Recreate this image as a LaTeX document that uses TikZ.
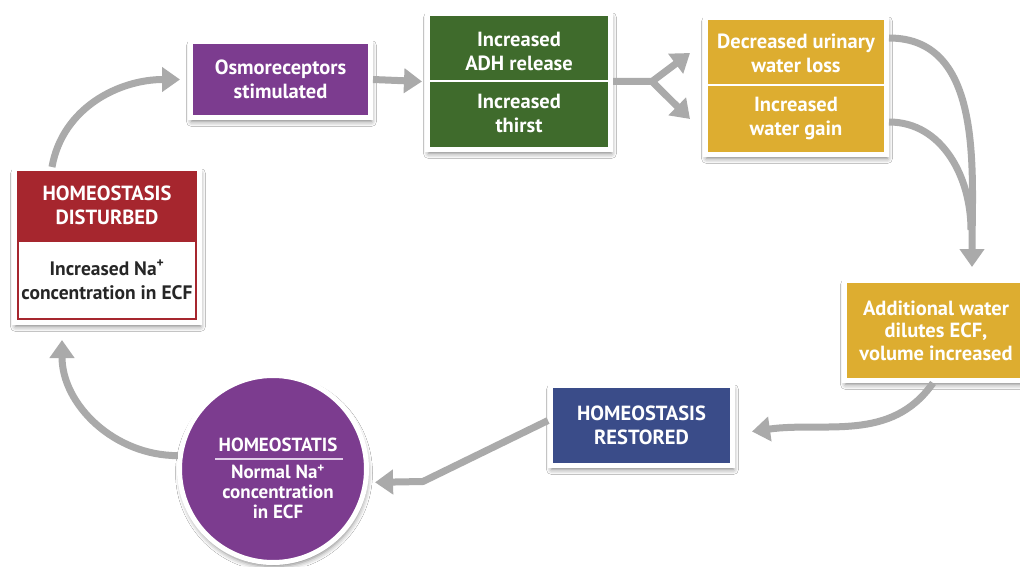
\documentclass[tikz,border=0pt]{standalone}
\usepackage{fontspec}
\setmainfont{PT Sans}
\usetikzlibrary{arrows.meta,shadows.blur}

\definecolor{distred}{RGB}{166,38,46}
\definecolor{osmopurple}{RGB}{124,60,143}
\definecolor{adhgreen}{RGB}{63,107,44}
\definecolor{wateryellow}{RGB}{221,173,48}
\definecolor{restblue}{RGB}{58,76,137}
\definecolor{arrowgrey}{RGB}{170,170,170}
\definecolor{ruleline}{RGB}{225,205,232}

\begin{document}
\begin{tikzpicture}[x=1pt,y=1pt,
	lbl/.style={font=\fontsize{20.5}{24}\selectfont\bfseries},
	box/.style={rectangle, draw=white, line width=5pt, inner sep=0pt,
		lbl, text=white, align=center,
		blur shadow={shadow xshift=1pt, shadow yshift=-4pt, shadow blur radius=5pt, shadow opacity=50}},
	txt/.style={lbl, text=white, align=center, inner sep=0pt},
	arrow/.style={draw=arrowgrey, line width=7pt, line join=round, -{Triangle[width=24pt,length=18pt]}},
	link/.style={draw=arrowgrey, line width=7pt}]

	\clip (0,0) rectangle (1020,566);
	\fill[white] (0,0) rectangle (1020,566);

	% disturbed: red header over white body
	\node[box, fill=white, minimum width=185, minimum height=153] (disturbed) at (107,320) {};
	\node[rectangle, draw=distred, line width=1.5pt, fill=white, minimum width=178, minimum height=78, inner sep=0pt] (dbody) at (107,286) {};
	\node[rectangle, fill=distred, minimum width=180, minimum height=69, inner sep=0pt] (dhead) at (107,360.5) {};
	\node[txt] (dheadtxt) at (dhead) {HOMEOSTASIS\\DISTURBED};
	\node[txt, text=black!85, font=\fontsize{19.5}{24}\selectfont\bfseries] (dbodytxt) at (dbody) {Increased Na\textsuperscript{+}\\concentration in ECF};

	% top row
	\node[box, fill=osmopurple, minimum width=180, minimum height=76] (osmo) at (280.5,486.5) {Osmoreceptors\\stimulated};

	\node[box, fill=adhgreen, minimum width=183, minimum height=136] (adh) at (519,484.5) {};
	\draw[white, line width=2pt] (adh.west) -- (adh.east);
	\node[txt] (adhtxt) at (519,515) {Increased\\ADH release};
	\node[txt] (thirst) at (519,453) {Increased\\thirst};

	\node[box, fill=wateryellow, minimum width=181, minimum height=137] (water) at (796,480) {};
	\draw[white, line width=2pt] ([yshift=1]water.west) -- ([yshift=1]water.east);
	\node[txt] (urine) at (796,513) {Decreased urinary\\water loss};
	\node[txt] (gain) at (796,448) {Increased\\water gain};

	% right side and bottom row
	\node[box, fill=wateryellow, minimum width=183, minimum height=100, font=\fontsize{20.5}{22.5}\selectfont\bfseries] (dilute) at (936,235.5) {Additional water\\dilutes ECF,\\volume increased};

	\node[box, fill=restblue, minimum width=182, minimum height=80] (restored) at (641.5,140.5) {HOMEOSTASIS\\RESTORED};

	\node[box, circle, fill=osmopurple, minimum size=187] (homeo) at (273,97) {};
	\node[txt, font=\fontsize{19}{20}\selectfont\bfseries] (homeotop) at (278,121) {HOMEOSTATIS};
	\draw[ruleline, line width=2pt] (215,107) -- (343,107);
	\node[txt, font=\fontsize{19}{20}\selectfont\bfseries] (homeobot) at (278,74) {Normal Na\textsuperscript{+}\\concentration\\in ECF};

	%% arrows %%
	\draw[arrow] ([xshift=40]disturbed.north west) to[out=80,in=180] ([xshift=-8]osmo.west);
	\draw[arrow] (osmo.east) -- ([xshift=-3]adh.west);

	% fork into both yellow halves
	\coordinate (split) at (652,484.5);
	\draw[arrow] (adh.east) -- (split) -- ([shift={(-13,33)}]water.west);
	\draw[arrow, line cap=round] (split) -- ([shift={(-13,-33)}]water.west);

	% both yellow halves join into one arrow
	\draw[link] ([yshift=-36]water.east) to[out=0,in=90] ([shift={(35,48)}]dilute.north);
	\draw[arrow] ([yshift=48]water.east) to[out=0,in=90] ([shift={(36,11)}]dilute.north);

	\draw[arrow] ([xshift=-3]dilute.south) to[out=235,in=8] ([shift={(17,-6)}]restored.east);
	\draw[arrow] ([yshift=5]restored.west) -- ++(-125,-61) -- ([xshift=7]homeo.-8);
	\draw[arrow] (homeo.172) to[out=180,in=270] ([shift={(50,-15)}]disturbed.south west);

\end{tikzpicture}
\end{document}
